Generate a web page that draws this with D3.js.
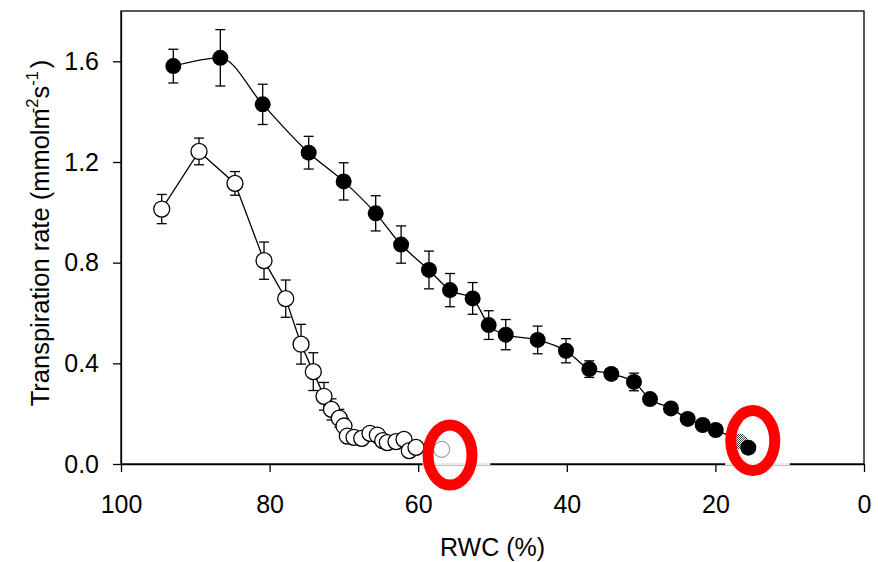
<!DOCTYPE html>
<html>
<head>
<meta charset="utf-8">
<script src="https://cdn.jsdelivr.net/npm/d3@7"></script>
<style>
  html, body { margin: 0; padding: 0; background: #fff; }
  svg { display: block; }
  text { font-family: "Liberation Sans", Arial, sans-serif; }
</style>
</head>
<body>
<svg id="chart" width="878" height="562"></svg>
<script>
// ---- Data ----
const xTicks = [100, 80, 60, 40, 20, 0];
const yTicks = [0.0, 0.4, 0.8, 1.2, 1.6];

// Filled circles series
const filledRWC = [92.96, 86.63, 80.93, 74.74, 70.03, 65.72, 62.3, 58.55, 55.72, 52.67, 50.51, 48.22, 43.92, 40.11, 36.97, 34.01, 30.96, 28.8, 25.98, 23.73, 21.71, 19.96, 16.69, 15.57];
const filledE   = [1.581, 1.614, 1.429, 1.237, 1.123, 0.996, 0.872, 0.771, 0.691, 0.658, 0.552, 0.514, 0.493, 0.450, 0.377, 0.358, 0.326, 0.258, 0.221, 0.179, 0.155, 0.135, 0.089, 0.065];
const filledErr = [0.067, 0.112, 0.080, 0.065, 0.074, 0.070, 0.074, 0.075, 0.066, 0.063, 0.057, 0.060, 0.055, 0.048, 0.033, 0.020, 0.035, 0.015, 0.015, 0.012, 0.012, 0.012, 0.010, 0.010];

// Open circles series
const openRWC = [94.52, 89.5, 84.66, 80.75, 77.83, 75.77, 74.12, 72.68, 71.67, 70.62, 69.99, 69.54, 68.64, 67.6, 66.49, 65.5, 64.78, 64.16, 62.99, 61.91, 61.2, 60.3];
const openE   = [1.013, 1.242, 1.115, 0.808, 0.657, 0.476, 0.367, 0.269, 0.217, 0.182, 0.151, 0.111, 0.106, 0.102, 0.122, 0.115, 0.093, 0.085, 0.089, 0.098, 0.053, 0.066];
const openErr = [0.058, 0.053, 0.047, 0.074, 0.074, 0.079, 0.075, 0.055, 0.042, 0.035, 0.030, 0.020, 0.015, 0.015, 0.015, 0.015, 0.012, 0.012, 0.012, 0.012, 0.010, 0.010];
// Faint last open point (inside the red marking)
const openFaint = [{rwc: 56.84, e: 0.058}];

// Red highlight rings (data coordinates of centres)
const highlightRWC = [55.72, 14.97];
const highlightE   = [0.036, 0.093];
// Erased (dotted) pieces of the x axis, in RWC units
const erasedAxis = [[59.4, 50.3], [18.7, 10.0]];

const yTitle = "Transpiration rate (mmolm";
const xTitle = "RWC (%)";

// ---- Layout ----
const svg = d3.select("#chart");
const x = d3.scaleLinear().domain([100, 0]).range([121, 864]);
const y = d3.scaleLinear().domain([0, 1.8]).range([464, 11]);
const FS = 25;

svg.append("rect").attr("width", 878).attr("height", 562).attr("fill", "#fff");

// Frame
svg.append("rect")
  .attr("x", x(100)).attr("y", y(1.8))
  .attr("width", x(0) - x(100)).attr("height", y(0) - y(1.8))
  .attr("fill", "none").attr("stroke", "#000").attr("stroke-width", 1.3);

// Axes
const yAxis = svg.append("g").attr("transform", `translate(${x(100)},0)`)
  .call(d3.axisLeft(y).tickValues(yTicks).tickFormat(d3.format(".1f")).tickSize(8).tickPadding(14).tickSizeOuter(0));
const xAxis = svg.append("g").attr("transform", `translate(0,${y(0)})`)
  .call(d3.axisBottom(x).tickValues(xTicks).tickFormat(d3.format("d")).tickSize(8).tickPadding(23).tickSizeOuter(0));
[yAxis, xAxis].forEach(g => {
  g.select(".domain").attr("stroke", "#000").attr("stroke-width", 1.3);
  g.selectAll(".tick line").attr("stroke", "#000").attr("stroke-width", 1.3);
  g.selectAll(".tick text").attr("fill", "#000").style("font-size", FS + "px")
    .style("font-family", '"Liberation Sans", Arial, sans-serif');
});

// Erased dotted pieces of x axis
erasedAxis.forEach(([a, b]) => {
  svg.append("line").attr("x1", x(a)).attr("x2", x(b)).attr("y1", y(0)).attr("y2", y(0))
    .attr("stroke", "#fff").attr("stroke-width", 2);
  svg.append("line").attr("x1", x(a)).attr("x2", x(b)).attr("y1", y(0)).attr("y2", y(0))
    .attr("stroke", "#b0b0b0").attr("stroke-width", 1.2).attr("stroke-dasharray", "1,1");
});

// Pattern for the faint (hatched) filled point
const defs = svg.append("defs");
const pat = defs.append("pattern").attr("id", "hatch").attr("patternUnits", "userSpaceOnUse")
  .attr("width", 2).attr("height", 2);
pat.append("rect").attr("width", 2).attr("height", 2).attr("fill", "#fff");
pat.append("rect").attr("width", 1).attr("height", 1).attr("fill", "#444");
pat.append("rect").attr("x", 1).attr("y", 1).attr("width", 1).attr("height", 1).attr("fill", "#444");

const filled = filledRWC.map((r, i) => ({rwc: r, e: filledE[i], err: filledErr[i]}));
const open = openRWC.map((r, i) => ({rwc: r, e: openE[i], err: openErr[i]}));

// Lines
svg.append("path").datum(filled)
  .attr("d", d3.line().x(d => x(d.rwc)).y(d => y(d.e)).curve(d3.curveMonotoneX))
  .attr("fill", "none").attr("stroke", "#000").attr("stroke-width", 1.3);
svg.append("path").datum(open)
  .attr("d", d3.line().x(d => x(d.rwc)).y(d => y(d.e)))
  .attr("fill", "none").attr("stroke", "#000").attr("stroke-width", 1.3);

// Error bars
function errBars(data) {
  const g = svg.append("g").attr("stroke", "#000").attr("stroke-width", 1.3);
  data.forEach(d => {
    const cx = x(d.rwc), t = y(d.e + d.err), b = y(d.e - d.err);
    g.append("line").attr("x1", cx).attr("x2", cx).attr("y1", t).attr("y2", b);
    g.append("line").attr("x1", cx - 5).attr("x2", cx + 5).attr("y1", t).attr("y2", t);
    g.append("line").attr("x1", cx - 5).attr("x2", cx + 5).attr("y1", b).attr("y2", b);
  });
}
errBars(filled);
errBars(open);

// Markers
const R = 8;
svg.append("g").selectAll("circle").data(open).join("circle")
  .attr("cx", d => x(d.rwc)).attr("cy", d => y(d.e)).attr("r", R)
  .attr("fill", "#fff").attr("stroke", "#000").attr("stroke-width", 1.3);
svg.append("g").selectAll("circle").data(openFaint).join("circle")
  .attr("cx", d => x(d.rwc)).attr("cy", d => y(d.e)).attr("r", R)
  .attr("fill", "#fff").attr("stroke", "#777").attr("stroke-width", 0.9);
svg.append("g").selectAll("circle").data(filled).join("circle")
  .attr("cx", d => x(d.rwc)).attr("cy", d => y(d.e)).attr("r", R)
  .attr("fill", (d, i) => i === filled.length - 2 ? "url(#hatch)" : "#000");

// Red highlight rings
svg.append("g").selectAll("ellipse").data(highlightRWC).join("ellipse")
  .attr("cx", d => x(d)).attr("cy", (d, i) => y(highlightE[i]))
  .attr("rx", 22).attr("ry", 30)
  .attr("fill", "none").attr("stroke", "#ff0000").attr("stroke-width", 11);

// Axis titles
svg.append("text").attr("x", (x(100) + x(0)) / 2).attr("y", 556)
  .attr("text-anchor", "middle").style("font-size", FS + "px").text(xTitle);

const yt = svg.append("text")
  .attr("transform", `translate(49,233) rotate(-90)`)
  .attr("text-anchor", "middle").style("font-size", "25.5px");
yt.append("tspan").text(yTitle);
yt.append("tspan").attr("dx", -5).attr("dy", -11).style("font-size", "16.5px").text("-2");
yt.append("tspan").attr("dy", 11).text("s");
yt.append("tspan").attr("dy", -11).style("font-size", "16.5px").text("-1");
yt.append("tspan").attr("dx", 3).attr("dy", 11).text(")");
</script>
</body>
</html>
